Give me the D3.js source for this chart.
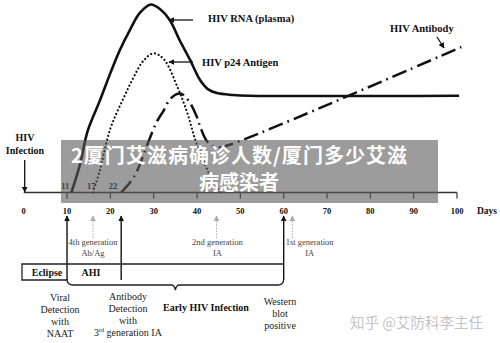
<!DOCTYPE html>
<html>
<head>
<meta charset="utf-8">
<script src="https://cdn.jsdelivr.net/npm/d3@7"></script>
<style>
  body { margin: 0; background: #fff; }
  svg { display: block; }
  .serif { font-family: "Liberation Serif", "DejaVu Serif", serif; }
</style>
</head>
<body>
<svg width="500" height="343"></svg>
<script>
// data: [day, relative level 0-100]
var rnaPlasma = [[11,0],[13,15],[14.8,33],[17.6,49],[20,63.5],[22.2,75.8],[24.5,86.4],[26.8,95.5],[29.3,100],[31.5,97.5],[33.7,91.8],[36,81],[38.4,70.5],[40.7,59.8],[42.5,55],[44.6,52.9],[48.3,51.9],[52,51.5],[100.5,51.5]];
var p24Antigen = [[16,0],[17.6,12],[20,34],[23,50],[25.3,61],[27.6,70],[30,74],[32.3,71],[35.5,56],[37.8,42],[39.6,28],[41.5,17],[43.8,5],[45.5,0]];
var antibody = [[22.5,0],[24.6,5.6],[26,10.6],[28.9,27.7],[30.8,38],[32.3,43.6],[33.9,50],[36.2,52.6],[38,49],[40,40],[40.8,34.6],[42.4,27],[44.6,24],[47,25],[101,77.4]];
var dayTicks = [0,10,20,30,40,50,60,70,80,90,100];
var onsetLabels = [{day:11, text:"11"}, {day:17, text:"17"}, {day:22, text:"22"}];
var blackArrows = [10, 22.5, 60];
var grayArrows = [16, 44.5, 62];
var assayLabels = [{day:16, lines:["4th generation","Ab/Ag"]}, {day:44.7, lines:["2nd generation","IA"]}, {day:66, lines:["1st generation","IA"]}];

var svg = d3.select("svg");
var x = d3.scaleLinear().domain([0,100]).range([23.7,457]);
var y = d3.scaleLinear().domain([0,100]).range([192.5,4.5]);

var defs = svg.append("defs");
function marker(id, color){
  defs.append("marker").attr("id", id).attr("viewBox","0 0 10 10").attr("refX",9).attr("refY",5)
    .attr("markerWidth",6).attr("markerHeight",6).attr("orient","auto-start-reverse")
    .attr("markerUnits","userSpaceOnUse")
    .append("path").attr("d","M0,0L10,5L0,10Z").attr("fill", color);
}
marker("ab","#111");
marker("ag","#aaa");

var line = d3.line().x(function(d){return x(d[0]);}).y(function(d){return y(d[1]);})
  .curve(d3.curveCatmullRom.alpha(0.5));

// axis
var axis = svg.append("g").attr("transform","translate(0,192.5)");
axis.append("line").attr("x1",x(0)).attr("x2",x(100)).attr("stroke","#333").attr("stroke-width",1.3);
axis.selectAll(".tk").data(dayTicks.slice(1)).enter().append("line")
  .attr("x1",x).attr("x2",x).attr("y1",0).attr("y2",6).attr("stroke","#333").attr("stroke-width",1.2);
svg.append("g").attr("class","serif").selectAll("text").data(dayTicks).enter().append("text")
  .attr("x",x).attr("y",214).attr("text-anchor","middle").attr("font-size",8.5).attr("font-weight","bold")
  .attr("fill","#111").text(function(d){return d;});
svg.append("text").attr("class","serif").attr("x",487).attr("y",214).attr("text-anchor","middle")
  .attr("font-size",9.5).attr("font-weight","bold").attr("fill","#111").text("Days");

// curves
svg.append("path").datum(rnaPlasma).attr("d",line).attr("fill","none").attr("stroke","#111").attr("stroke-width",2.6);
svg.append("path").datum(p24Antigen).attr("d",line).attr("fill","none").attr("stroke","#111").attr("stroke-width",2.2)
  .attr("stroke-dasharray","0.1,3.8").attr("stroke-linecap","round");
svg.append("path").datum(antibody).attr("d",line).attr("fill","none").attr("stroke","#111").attr("stroke-width",2.5)
  .attr("stroke-dasharray","15,5,1.8,5");

// onset labels
svg.append("g").attr("class","serif").selectAll("text").data(onsetLabels).enter().append("text")
  .attr("x",function(d){return x(d.day)-6;}).attr("y",189).attr("text-anchor","middle")
  .attr("font-size",8.5).attr("font-weight","bold").attr("fill","#111").text(function(d){return d.text;});

// series labels
var lab = svg.append("g").attr("class","serif").attr("font-weight","bold").attr("fill","#111");
lab.append("text").attr("x",208).attr("y",22).attr("font-size",10.5).text("HIV RNA (plasma)");
lab.append("text").attr("x",202).attr("y",66).attr("font-size",10.5).text("HIV p24 Antigen");
lab.append("text").attr("x",390).attr("y",32).attr("font-size",10.5).text("HIV Antibody");
lab.append("text").attr("x",25).attr("y",141).attr("text-anchor","middle").attr("font-size",10).text("HIV");
lab.append("text").attr("x",25).attr("y",154).attr("text-anchor","middle").attr("font-size",10).text("Infection");
svg.append("line").attr("x1",193).attr("y1",20).attr("x2",169).attr("y2",20).attr("stroke","#111").attr("stroke-width",1.3).attr("marker-end","url(#ab)");
svg.append("line").attr("x1",193).attr("y1",62).attr("x2",169).attr("y2",62).attr("stroke","#111").attr("stroke-width",1.3).attr("marker-end","url(#ab)");
svg.append("line").attr("x1",437).attr("y1",37).attr("x2",444).attr("y2",48).attr("stroke","#111").attr("stroke-width",1.3).attr("marker-end","url(#ab)");
svg.append("line").attr("x1",x(0)+1).attr("y1",160).attr("x2",x(0)+1).attr("y2",192).attr("stroke","#111").attr("stroke-width",1.3).attr("marker-end","url(#ab)");

// arrows below axis
svg.selectAll(".ba").data(blackArrows).enter().append("line")
  .attr("x1",x).attr("x2",x).attr("y1",280).attr("y2",216).attr("stroke","#111").attr("stroke-width",1.4).attr("marker-end","url(#ab)");
svg.selectAll(".ga").data(grayArrows).enter().append("line")
  .attr("x1",x).attr("x2",x).attr("y1",238).attr("y2",216).attr("stroke","#aaa").attr("stroke-width",1)
  .attr("stroke-dasharray","1.5,1.5").attr("marker-end","url(#ag)");
var al = svg.append("g").attr("class","serif").attr("font-size",8.5).attr("fill","#444").attr("text-anchor","middle");
assayLabels.forEach(function(a){
  a.lines.forEach(function(t,i){
    al.append("text").attr("x",x(a.day)).attr("y",245+i*11).text(t);
  });
});

// stage box and brace
var bx = svg.append("g").attr("fill","none").attr("stroke","#222").attr("stroke-width",1.3);
bx.append("path").attr("d","M"+x(60)+",264H22V280H"+x(10));
var bl = x(10), br = x(60), bm = (bl+br)/2;
bx.append("path").attr("d","M"+bl+",279Q"+bl+",285 "+(bl+6)+",285H"+(bm-4)+"Q"+(bm-1)+",285 "+bm+",290Q"+(bm+1)+",285 "+(bm+4)+",285H"+(br-6)+"Q"+br+",285 "+br+",279");
var st = svg.append("g").attr("class","serif").attr("font-weight","bold").attr("font-size",10).attr("fill","#111");
st.append("text").attr("x",47).attr("y",276).attr("text-anchor","middle").text("Eclipse");
st.append("text").attr("x",91).attr("y",276).attr("text-anchor","middle").text("AHI");
st.append("text").attr("x",163).attr("y",311).text("Early HIV Infection");

var bt = svg.append("g").attr("class","serif").attr("font-size",10).attr("fill","#222").attr("text-anchor","middle");
["Viral","Detection","with","NAAT"].forEach(function(t,i){ bt.append("text").attr("x",60).attr("y",301+i*12).text(t); });
["Antibody","Detection","with"].forEach(function(t,i){ bt.append("text").attr("x",128).attr("y",300+i*12).text(t); });
var g3 = bt.append("text").attr("x",128).attr("y",336);
g3.append("tspan").text("3");
g3.append("tspan").attr("font-size",6).attr("dy",-4).text("rd");
g3.append("tspan").attr("dy",4).text(" generation IA");
["Western","blot","positive"].forEach(function(t,i){ bt.append("text").attr("x",280).attr("y",305+i*12).text(t); });

// watermark
svg.append("text").attr("x",350).attr("y",328).attr("font-family","'Noto Sans CJK SC', sans-serif")
  .attr("font-size",14.5).attr("fill","#c4c4c4").text("知乎 @艾防科李主任");

// title overlay
svg.append("rect").attr("x",61).attr("y",140).attr("width",377).attr("height",63).attr("fill","rgba(90,90,90,0.6)");
var ov = svg.append("g").attr("font-family","'Noto Sans CJK SC', sans-serif").attr("font-weight","bold")
  .attr("font-size",20).attr("fill","#fff").attr("text-anchor","middle");
ov.append("text").attr("x",239).attr("y",163).attr("textLength",336).attr("lengthAdjust","spacing").text("2厦门艾滋病确诊人数/厦门多少艾滋");
ov.append("text").attr("x",239).attr("y",190).text("病感染者");
</script>
</body>
</html>
